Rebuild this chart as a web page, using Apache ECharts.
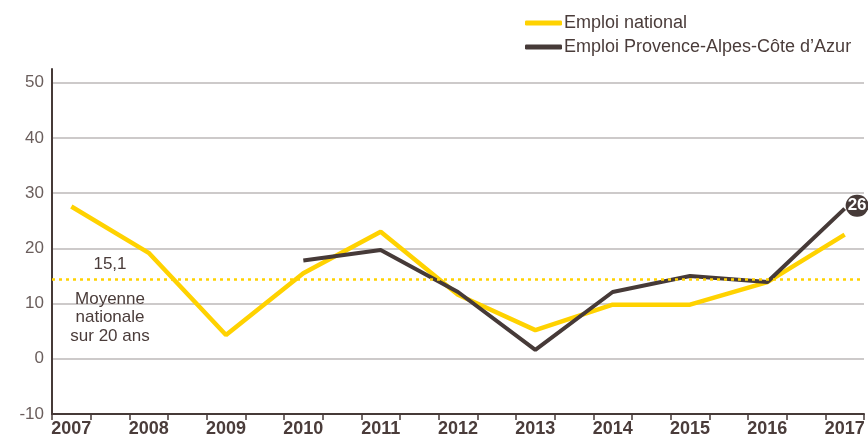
<!DOCTYPE html>
<html>
<head>
<meta charset="utf-8">
<script src="https://cdn.jsdelivr.net/npm/echarts@6/dist/echarts.min.js"></script>
<style>
  html, body { margin: 0; padding: 0; background: #fff; }
  #chart { width: 868px; height: 438px; }
</style>
</head>
<body>
<div id="chart"></div>
<script>
// annees et valeurs
var years = ['2007', '2008', '2009', '2010', '2011', '2012', '2013', '2014', '2015', '2016', '2017'];
var national = [27.6, 19.2, 4.3, 15.5, 23.0, 11.6, 5.2, 9.8, 9.8, 13.9, 22.5];
var paca = [null, null, null, 17.8, 19.7, 12.1, 1.6, 12.1, 15.0, 13.9, 27.2];
var yTicks = [-10, 0, 10, 20, 30, 40, 50];
var moyenne = 14.5;
var moyenneLabel = '15,1';
var moyenneText = 'Moyenne\nnationale\nsur 20 ans';
var dernierLabel = '26';

var yellow = '#FFD200';
var brown = '#463a38';
var textColor = '#4a3c3a';
var font = 'Liberation Sans, Arial, sans-serif';

// axe categoriel a demi-annees : une case par annee + une case vide entre deux
var slots = [];
for (var i = 0; i < years.length; i++) {
    slots.push(years[i]);
    if (i < years.length - 1) slots.push(years[i] + '.5');
}
function toPoints(values) {
    var out = [];
    for (var i = 0; i < values.length; i++) {
        if (values[i] !== null) out.push([i * 2, values[i]]);
    }
    return out;
}

var myChart = echarts.init(document.getElementById('chart'));
var option = {
    animation: false,
    textStyle: { fontFamily: font },
    legend: {
        orient: 'vertical',
        left: 520,
        top: 9,
        itemGap: 6,
        itemWidth: 37,
        itemHeight: 5,
        icon: 'roundRect',
        textStyle: { fontSize: 18, color: textColor, fontFamily: font, padding: [0, 0, 0, -3] },
        data: ['Emploi national', 'Emploi Provence-Alpes-Côte d\u2019Azur']
    },
    grid: { left: 52, right: 4, top: 69, bottom: 24, containLabel: false },
    xAxis: {
        type: 'category',
        data: slots,
        boundaryGap: true,
        axisLine: { onZero: false, lineStyle: { color: brown, width: 2 } },
        axisTick: { show: true, interval: 0, length: 6, lineStyle: { color: brown, width: 1.5 } },
        axisLabel: {
            interval: 0,
            margin: 6,
            fontSize: 18,
            fontWeight: 'bold',
            color: textColor,
            fontFamily: font,
            formatter: function (v) { return v.indexOf('.') > -1 ? '' : v; }
        },
        splitLine: { show: false }
    },
    yAxis: {
        type: 'value',
        min: yTicks[0],
        max: 52.5,
        interval: 10,
        axisLine: { show: true, lineStyle: { color: brown, width: 2 } },
        axisTick: { show: false },
        axisLabel: { fontSize: 17, color: '#6a5e5c', margin: 8, showMaxLabel: false, fontFamily: font },
        splitLine: { show: true, showMaxLine: false, lineStyle: { color: '#bdb8b8', width: 1.5 } }
    },
    series: [
        {
            name: 'Emploi national',
            type: 'line',
            data: toPoints(national),
            showSymbol: false,
            symbol: 'none',
            lineStyle: { color: yellow, width: 4.5 },
            itemStyle: { color: yellow },
            z: 2,
            markLine: {
                silent: true,
                symbol: 'none',
                label: { show: false },
                lineStyle: { color: yellow, type: [3, 4], width: 2.5 },
                data: [{ yAxis: moyenne }]
            },
            markPoint: {
                silent: true,
                symbol: 'circle',
                symbolSize: 0,
                label: { show: true, position: 'inside', color: textColor, fontSize: 17, lineHeight: 18.5, fontFamily: font },
                data: [
                    { coord: [1, 17.1], value: moyenneLabel, label: { formatter: moyenneLabel } },
                    { coord: [1, 7.5], value: 0, label: { formatter: moyenneText } }
                ]
            }
        },
        {
            name: 'Emploi Provence-Alpes-Côte d\u2019Azur',
            type: 'line',
            data: toPoints(paca),
            showSymbol: false,
            symbol: 'none',
            lineStyle: { color: brown, width: 4 },
            itemStyle: { color: brown },
            z: 3,
            endLabel: {
                show: true,
                formatter: dernierLabel,
                distance: 1,
                offset: [0, -3],
                color: '#fff',
                fontWeight: 'bold',
                fontSize: 17,
                lineHeight: 18,
                fontFamily: font,
                backgroundColor: brown,
                borderRadius: 12,
                padding: [2, 2, 2, 2]
            }
        }
    ]
};
myChart.setOption(option);
</script>
</body>
</html>
